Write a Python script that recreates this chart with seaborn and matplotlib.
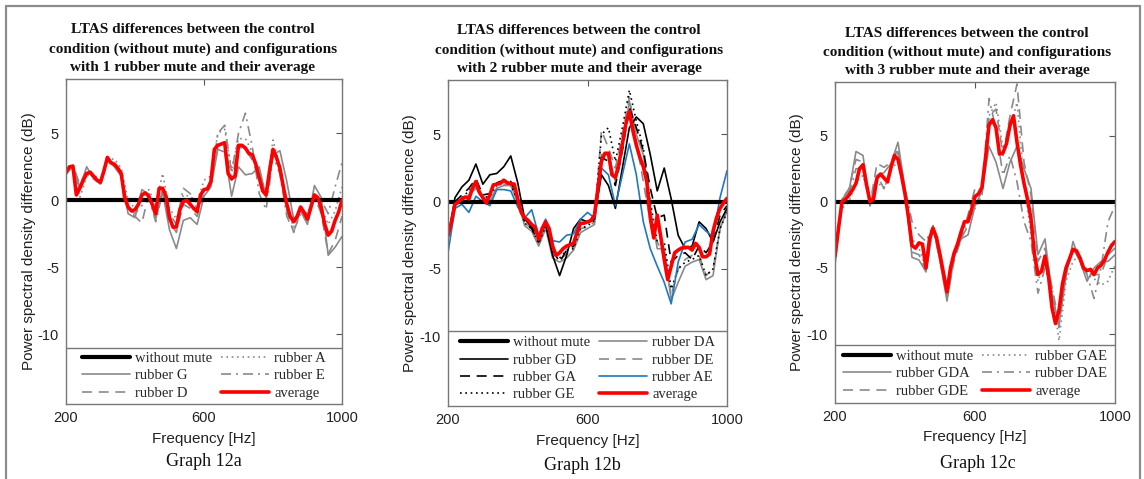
import matplotlib
matplotlib.use("Agg")
import matplotlib.pyplot as plt
import seaborn as sns
from matplotlib.patches import Rectangle
from matplotlib.lines import Line2D

# frequency grids (Hz)
freq10 = list(range(200, 1001, 10))
freq20 = list(range(200, 1001, 20))
ctrl_freq = [200, 1000]
ctrl_db = [0, 0]

# ---- Graph 12a : 1 rubber mute ----
a_avg = [2.1, 2.5, 2.55, 0.4, 0.9, 1.5, 2.0, 2.1, 1.8, 1.5, 1.35, 2.2, 3.2, 2.8, 2.7, 2.4, 2.0, 0.2,
         -0.5, -0.8, -0.7, -0.3, 0.4, 0.55, 0.3, -0.3, -1.0, 0.9, 0.9, 0.3, -1.3, -2.0, -2.0, -0.7,
         -0.1, 0.0, -0.3, -0.6, -0.85, 0.4, 0.8, 0.85, 1.4, 3.8, 4.1, 4.2, 4.3, 2.0, 1.6, 1.8, 4.1,
         4.1, 3.9, 3.5, 3.4, 2.7, 1.7, 0.7, 0.4, 2.2, 3.8, 3.2, 2.4, 1.0, -0.3, -1.2, -1.6, -1.2,
         -0.5, -0.9, -1.4, -0.5, 0.4, 0.2, -0.6, -1.8, -2.6, -2.3, -1.5, -0.9, 0.0]
a_G = [1.9, 2.6, 1.0, 2.5, 1.6, 1.2, 3.0, 2.5, 1.8, -1.0, -1.3, 0.8, 0.4, -1.4, 0.6, -2.2, -3.6,
       -1.5, -1.3, -1.8, 0.3, 1.0, 3.8, 3.6, 0.3, 2.5, 1.9, 2.0, 2.5, 0.2, 3.4, 3.7, 1.4, -1.4,
       -0.8, -1.8, 1.1, 0.2, -4.1, -3.5, -2.7]
a_D = [2.1, 2.6, 1.2, 2.2, 1.7, 1.4, 3.1, 2.7, 1.9, -0.7, -1.2, -1.7, 0.5, -1.2, 0.8, -1.6, -2.4,
       -0.3, -0.6, -1.2, 0.6, 1.2, 4.0, 4.2, 1.5, 4.0, 3.8, 3.0, 1.5, 0.5, 3.7, 2.3, -0.8, -2.4,
       -0.7, -1.7, 0.3, -1.0, -4.0, -3.0, -1.2]
a_A = [2.3, 2.4, 0.2, 1.8, 1.9, 1.5, 3.0, 3.1, 2.4, 0.0, -0.6, 0.1, 0.8, -0.4, 2.0, -0.6, -1.4,
       0.4, 0.3, -0.2, 1.5, 1.8, 5.0, 5.3, 2.3, 4.6, 4.6, 3.6, 2.0, 0.7, 4.5, 2.5, -0.6, -2.0,
       -0.6, -1.0, 0.5, -0.5, -1.8, -0.8, 1.0]
a_E = [2.0, 2.5, 0.8, 2.0, 1.6, 1.3, 3.2, 2.6, 2.0, -0.6, -1.0, -0.4, 0.2, -1.6, 0.6, -1.0, -1.8,
       0.9, 0.5, -0.7, 0.7, 1.2, 5.0, 5.6, 2.0, 5.0, 6.5, 4.0, 0.5, -0.7, 3.3, 2.0, -1.2, -2.3,
       -1.0, -1.5, 0.3, 0.0, -1.0, 1.0, 2.8]

# ---- Graph 12b : 2 rubber mutes ----
b_avg = [-2.5, -1.5, -0.2, 0.0, 0.2, 0.35, 0.2, 1.0, 1.5, 0.7, 0.3, -0.1, 0.5, 1.25, 1.3, 1.35,
         1.6, 1.4, 1.35, 1.3, 0.2, -0.8, -1.2, -1.4, -1.7, -1.9, -2.8, -2.0, -1.5, -2.0, -3.3,
         -4.0, -3.8, -3.5, -3.3, -3.2, -3.1, -2.3, -1.6, -1.6, -1.5, -1.4, -1.0, 1.0, 3.0, 3.6,
         3.6, 2.0, 1.8, 2.8, 4.3, 5.8, 6.7, 5.3, 4.2, 3.3, 2.6, 1.5, -1.2, -2.7, -1.0, -2.6, -4.3,
         -5.8, -4.8, -3.8, -3.6, -3.45, -3.4, -3.4, -3.6, -3.1, -3.4, -4.1, -4.1, -3.9, -2.2,
         -1.2, -0.5, -0.1, 0.25]
b_GD = [-2.8, 0.3, 1.1, 1.6, 2.8, 1.3, 2.0, 2.1, 2.6, 3.4, 1.4, -1.3, -1.9, -2.5, -1.7, -4.0,
        -5.5, -4.0, -2.0, -1.3, -1.5, -1.2, 2.0, 1.2, -0.5, 2.5, 5.5, 6.3, 5.8, 3.5, 0.8, 2.5,
        0.2, -2.5, -3.5, -3.3, -1.5, -2.0, -3.0, -1.5, -0.5]
b_GA = [-2.5, 0.0, 0.5, 1.0, 1.7, 0.5, 0.6, 1.4, 1.6, 1.5, 0.3, -1.5, -2.0, -3.0, -1.6, -3.6,
        -4.5, -3.6, -3.3, -1.6, -1.6, -1.3, 3.3, 3.0, 1.2, 3.8, 7.0, 5.5, 3.8, 1.0, -1.2, -1.0,
        -4.5, -4.0, -3.8, -4.3, -3.3, -3.8, -3.0, -1.0, -0.3]
b_GE = [-2.6, -0.2, 0.3, 0.8, 1.3, 0.3, 0.4, 1.2, 1.5, 1.3, 0.0, -1.6, -2.0, -3.1, -1.8, -3.8,
        -4.2, -3.6, -3.5, -2.0, -1.8, -1.4, 5.0, 5.5, 3.0, 5.5, 8.3, 6.0, 4.0, 0.0, -3.0, -3.0,
        -6.5, -5.0, -4.5, -4.3, -4.0, -5.5, -5.0, -2.0, -0.8]
b_DA = [-2.6, -0.3, 0.1, 0.5, 1.0, 0.2, 0.0, 1.0, 1.2, 1.2, 0.0, -1.8, -2.2, -3.3, -2.0, -4.2,
        -4.5, -4.2, -3.6, -2.3, -2.0, -1.7, 3.5, 3.5, 1.5, 4.0, 7.5, 5.0, 3.5, -0.5, -3.5, -3.5,
        -7.3, -6.0, -4.8, -4.5, -4.3, -5.8, -5.5, -2.0, -0.7]
b_DE = [-2.5, -0.4, 0.2, 0.6, 1.1, 0.3, 0.1, 1.0, 1.3, 1.2, 0.1, -1.6, -2.0, -3.2, -1.8, -3.9,
        -4.3, -3.9, -3.4, -2.0, -1.9, -1.5, 5.3, 4.0, 2.5, 5.0, 7.8, 4.5, 1.5, -1.5, -3.0, -4.0,
        -7.0, -5.0, -4.3, -4.0, -4.0, -5.5, -5.0, -2.0, -0.5]
b_AE = [-3.8, -0.5, -0.2, -0.8, 0.4, 0.0, -0.3, 0.9, 0.9, 0.8, -0.4, -1.2, -0.6, -2.5, -1.3,
        -2.9, -3.0, -2.5, -2.4, -1.3, -0.8, -1.2, 2.5, 2.0, -0.3, 2.0, 4.3, 2.0, -1.5, -3.5, -4.8,
        -6.0, -7.6, -4.5, -3.0, -2.8, -1.7, -2.2, -2.6, 0.3, 2.3]

# ---- Graph 12c : 3 rubber mutes ----
c_avg = [-4.1, -2.0, 0.0, 0.2, 0.5, 0.9, 1.4, 2.5, 2.8, 1.3, 0.0, 0.2, 1.8, 2.1, 1.8, 1.5, 2.6,
         3.5, 3.2, 2.0, 0.6, -1.2, -3.3, -3.5, -3.1, -3.2, -5.0, -2.8, -2.0, -2.7, -4.0, -5.4,
         -6.8, -5.0, -3.9, -3.2, -2.3, -1.5, -1.5, -0.6, 0.4, 0.6, 1.1, 3.3, 5.8, 6.2, 5.6, 3.6,
         3.7, 4.4, 5.8, 6.5, 4.5, 2.8, 1.4, 0.2, -1.3, -4.0, -5.5, -5.25, -4.1, -5.6, -8.0, -9.2,
         -8.2, -6.2, -5.0, -4.3, -3.6, -3.7, -4.25, -5.0, -5.2, -5.1, -5.5, -5.0, -4.8, -4.4,
         -3.8, -3.3, -3.0]
c_GDA = [-4.8, 0.2, 0.8, 3.8, 3.5, -0.3, 2.0, 2.2, 2.9, 4.5, 1.0, -4.2, -4.4, -5.3, -1.8, -4.5,
         -7.5, -4.2, -2.8, -2.5, -0.3, 0.8, 4.2, 3.0, 1.0, 3.0, 4.2, 2.5, 1.0, -4.0, -2.8, -7.0,
         -9.3, -5.6, -3.0, -4.5, -6.0, -5.0, -4.5, -4.5, -4.0]
c_GDE = [-4.5, 0.2, 1.0, 3.2, 3.0, -0.2, 2.9, 2.6, 3.0, 4.0, 0.7, -3.8, -4.0, -5.2, -2.0, -4.4,
         -7.2, -4.5, -2.8, -1.8, 0.3, 0.5, 6.5, 7.0, 3.5, 6.5, 8.9, 3.0, 0.5, -4.5, -3.5, -6.5,
         -9.0, -5.5, -3.5, -4.2, -5.5, -5.5, -5.5, -4.0, -3.5]
c_GAE = [-4.0, -0.5, 0.0, 1.5, 2.0, 0.0, 1.5, 1.0, 2.5, 3.0, 0.5, -2.8, -3.5, -5.0, -2.2, -4.0,
         -6.8, -4.0, -2.5, -1.5, -0.5, 0.5, 6.5, 7.5, 4.0, 5.5, 7.5, 1.5, -2.5, -6.0, -4.5, -6.5,
         -10.5, -6.0, -4.5, -4.0, -5.5, -5.8, -6.3, -6.0, -4.8]
c_DAE = [-4.2, 0.0, 0.6, 2.5, 2.5, -0.3, 2.0, 1.0, 2.5, 3.8, 1.0, -1.5, -2.5, -3.0, -1.8, -4.0,
         -7.0, -4.2, -2.8, -1.0, 1.0, 0.5, 7.8, 5.5, 2.0, 3.5, 1.5, -1.5, -3.0, -6.9, -5.0, -7.0,
         -9.5, -5.0, -3.5, -4.5, -5.5, -7.3, -5.0, -1.5, -0.3]

GRAY = "#8a8a8a"
BLUE = "#1f78c1"
DASH = (0, (6, 4))
DASHDOT = (0, (6, 3, 1.2, 3))
DOT = (0, (1, 2.2))

sns.set_theme(style="white")
plt.rcParams["font.family"] = ["Liberation Sans", "DejaVu Sans"]
plt.rcParams["axes.unicode_minus"] = False
SERIF = ["Liberation Serif", "DejaVu Serif"]

fig = plt.figure(figsize=(11.44, 4.79), dpi=100)

panels = [
    dict(rect=[66, 79, 342, 404], leg_top=-11.0, title_x=0.46, cap=(204, 462, "Graph 12a"),
         n=1, avg=a_avg,
         series=[("rubber G", a_G, GRAY, "-"), ("rubber D", a_D, GRAY, DASH),
                 ("rubber A", a_A, GRAY, DOT), ("rubber E", a_E, GRAY, DASHDOT)],
         order=["without mute", "rubber G", "rubber D", "rubber A", "rubber E", "average"]),
    dict(rect=[448, 80, 727, 406], leg_top=-9.65, title_x=0.47, cap=(582, 465, "Graph 12b"),
         n=2, avg=b_avg,
         series=[("rubber DA", b_DA, GRAY, "-"), ("rubber DE", b_DE, GRAY, DASH),
                 ("rubber GE", b_GE, "black", DOT), ("rubber GA", b_GA, "black", DASH),
                 ("rubber GD", b_GD, "black", "-"), ("rubber AE", b_AE, BLUE, "-")],
         order=["without mute", "rubber GD", "rubber GA", "rubber GE",
                "rubber DA", "rubber DE", "rubber AE", "average"]),
    dict(rect=[835, 82, 1115, 403], leg_top=-10.8, title_x=0.471, cap=(978, 463, "Graph 12c"),
         n=3, avg=c_avg,
         series=[("rubber GDA", c_GDA, GRAY, "-"), ("rubber GDE", c_GDE, GRAY, DASH),
                 ("rubber GAE", c_GAE, GRAY, DOT), ("rubber DAE", c_DAE, GRAY, DASHDOT)],
         order=["without mute", "rubber GDA", "rubber GDE", "rubber GAE", "rubber DAE", "average"]),
]

W, H = 1144, 479
YMIN, YMAX = -15.2, 9.05

for p in panels:
    x0, y0, x1, y1 = p["rect"]
    ax = fig.add_axes([x0 / W, 1 - y1 / H, (x1 - x0) / W, (y1 - y0) / H])

    for lab, vals, col, ls in p["series"]:
        sns.lineplot(x=freq20, y=vals, ax=ax, color=col, linestyle=ls, linewidth=1.2, label=lab)
    sns.lineplot(x=ctrl_freq, y=ctrl_db, ax=ax, color="black", linewidth=3.0, label="without mute")
    sns.lineplot(x=freq10, y=p["avg"], ax=ax, color="#ff0000", linewidth=2.6, label="average")

    ax.set_xlim(200, 1000)
    ax.set_ylim(YMIN, YMAX)
    ax.set_xticks([200, 600, 1000])
    ax.set_yticks([-10, -5, 0, 5])
    ax.tick_params(direction="in", top=True, right=True, length=4, width=0.8,
                   labelsize=10.5, colors="#555555", labelcolor="#222222", pad=5)
    for s in ax.spines.values():
        s.set_color("#777777")
        s.set_linewidth(1.0)

    ax.set_xlabel("Frequency [Hz]", fontsize=11, color="#222222")
    ax.set_ylabel("Power spectral density difference (dB)", fontsize=11, color="#222222")
    ax.xaxis.set_label_coords(0.5, -0.085)
    ax.yaxis.set_label_coords(-0.11, 0.5)

    # legend box at the bottom of the axes, full width
    frac = (p["leg_top"] - YMIN) / (YMAX - YMIN)
    ax.add_patch(Rectangle((0, 0), 1, frac, transform=ax.transAxes, facecolor="white",
                           edgecolor="#777777", linewidth=1.0, zorder=5))
    handles = {l.get_label(): l for l in ax.get_lines()}
    ax.legend([handles[k] for k in p["order"]], p["order"], ncol=2, frameon=False,
              loc="center", bbox_to_anchor=(0.5, frac / 2), bbox_transform=ax.transAxes,
              prop={"family": SERIF, "size": 10.5}, handlelength=3.3, handletextpad=0.35,
              columnspacing=0.6, labelspacing=0.28, borderpad=0)
    ax.get_legend().set_zorder(6)

    title = ("LTAS differences between the control\n"
             "condition (without mute) and configurations\n"
             f"with {p['n']} rubber mute and their average")
    ax.text(p["title_x"], 1.015, title, transform=ax.transAxes, ha="center", va="bottom",
            family=SERIF, fontweight="bold", fontsize=11, linespacing=1.55, color="#111111")

    cx, cy, cap = p["cap"]
    fig.text(cx / W, 1 - cy / H, cap, ha="center", va="center", family=SERIF, fontsize=13,
             color="#111111")

# outer frame of the figure
for xs, ys in [([6, 6], [6, 479]), ([6, 1140], [6, 6]), ([1140, 1140], [6, 479])]:
    fig.add_artist(Line2D([x / W for x in xs], [1 - y / H for y in ys], color="#8c8c8c",
                          linewidth=1.6, transform=fig.transFigure))

fig.savefig("out.png", dpi=100)
